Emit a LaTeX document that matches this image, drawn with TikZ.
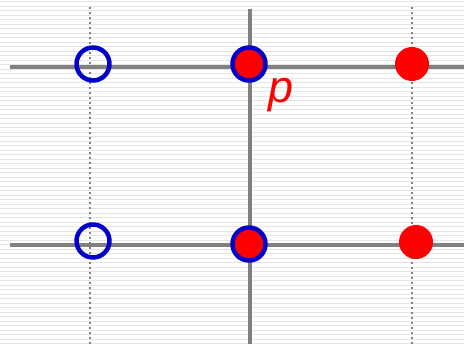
\documentclass[tikz,border=0pt]{standalone}
\usepackage{fontspec}
\setsansfont{Liberation Sans}
\definecolor{ptblue}{RGB}{0,0,200}
\definecolor{ptred}{RGB}{255,0,0}
\definecolor{axisgray}{RGB}{128,128,128}
\tikzset{
  bgline/.style={draw=black!10, line width=1pt},
  axis/.style={draw=axisgray, line width=4pt},
  grid line/.style={draw=axisgray, line width=2.2pt, dash pattern=on 2.5pt off 2.5pt},
  open pt/.style={circle, draw=ptblue, line width=4.5pt, minimum size=33pt, inner sep=0pt},
  both pt/.style={open pt, fill=ptred},
  red pt/.style={circle, fill=ptred, minimum size=34pt, inner sep=0pt},
}
\begin{document}
\begin{tikzpicture}[x=1pt, y=-1pt, line join=round]
			\useasboundingbox (0,0) rectangle (464,344);
			\foreach \y in {2,6.5,...,344}{\draw[bgline] (0,\y)--(464,\y);}
			\path
			(10,67) coordinate (L1) (464,67) coordinate (R1)
			(10,245) coordinate (L2) (464,245) coordinate (R2)
			(250,9) coordinate (T) (250,344) coordinate (B)
			(90,7) coordinate (Ta) (90,344) coordinate (Ba)
			(412,7) coordinate (Tc) (412,344) coordinate (Bc);
			\draw[grid line] (Ta)--(Ba) (Tc)--(Bc);
			\draw[axis] (L1)--(R1) (L2)--(R2) (T)--(B);
			\foreach \n/\x/\y in {a1/93/64, a2/93/241}{\node[open pt] (\n) at (\x,\y) {};}
			\foreach \n/\x/\y in {b1/249/64, b2/249/244}{\node[both pt] (\n) at (\x,\y) {};}
			\foreach \n/\x/\y in {c1/412/64, c2/416/242}{\node[red pt] (\n) at (\x,\y) {};}
			\node[anchor=base, inner sep=0pt, text=ptred, font=\sffamily\itshape\fontsize{45}{45}\selectfont] (p) at (281,103) {p};
		\end{tikzpicture}
\end{document}
